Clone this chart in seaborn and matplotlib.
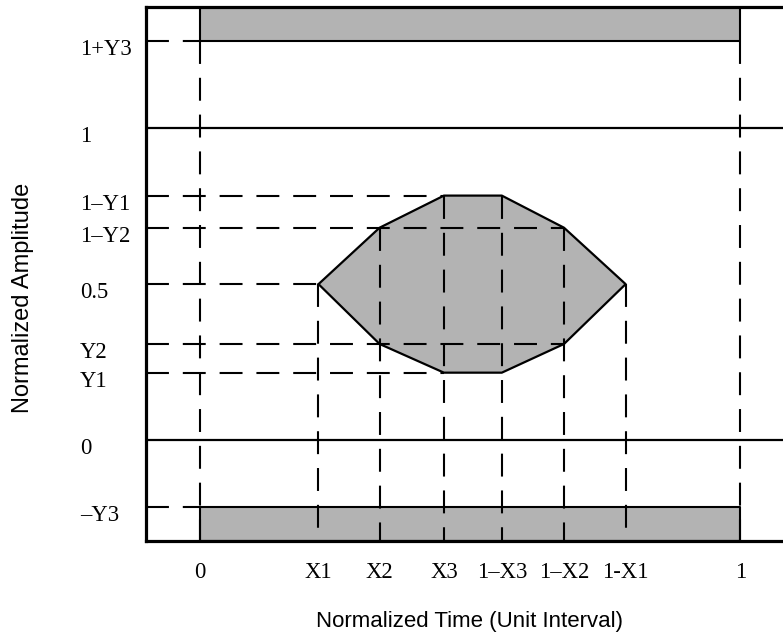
import numpy as np
import pandas as pd
import matplotlib
matplotlib.use("Agg")
import matplotlib.pyplot as plt
import seaborn as sns
from matplotlib.transforms import ScaledTranslation

# ---------------- data ----------------
x_tick_values = [0.0, 0.22, 0.333, 0.452, 0.559, 0.674, 0.788, 1.0]
x_tick_labels = ["0", "X1", "X2", "X3", "1\u2013X3", "1\u2013X2", "1-X1", "1"]
y_tick_values = [1.281, 1.0, 0.784, 0.681, 0.5, 0.308, 0.216, 0.0, -0.216]
y_tick_labels = ["1+Y3", "1", "1\u2013Y1", "1\u2013Y2", "0.5", "Y2", "Y1", "0", "\u2013Y3"]

# eye-mask polygon vertices
mask_x = [0.22, 0.333, 0.452, 0.559, 0.674, 0.788, 0.674, 0.559, 0.452, 0.333]
mask_y = [0.5, 0.681, 0.784, 0.784, 0.681, 0.5, 0.308, 0.216, 0.216, 0.308]

upper_mask = 1.281   # 1+Y3
lower_mask = -0.216  # -Y3
mask_x_start = 0.0
mask_x_end = 1.0
levels = [0.0, 1.0]

x_range = (-0.099, 1.079)
y_range = (-0.323, 1.388)

# horizontal guides: y level and x where they stop
h_guide_y = [1.281, 0.784, 0.681, 0.5, 0.308, 0.216, -0.216]
h_guide_xend = [0.0, 0.452, 0.674, 0.22, 0.674, 0.452, 0.0]
# vertical guides: x position and y where they start (down to the bottom)
v_guide_x = x_tick_values
v_guide_ytop = [1.281, 0.5, 0.681, 0.784, 0.784, 0.681, 0.5, 1.281]

# ---------------- style ----------------
sns.set_theme(style="white")
plt.rcParams["font.family"] = ["Liberation Sans", "DejaVu Sans"]
plt.rcParams["lines.scale_dashes"] = False

W, H, DPI = 783, 637, 100
fig = plt.figure(figsize=(W / DPI, H / DPI), dpi=DPI)
ax = fig.add_axes([146 / W, 1 - 540.7 / H, 1 - 146 / W, (540.7 - 7.3) / H])
ax.set_xlim(*x_range)
ax.set_ylim(*y_range)

grey = "#b3b3b3"

# mask bars (top and bottom)
ax.fill_between([mask_x_start, mask_x_end], upper_mask, y_range[1],
                facecolor=grey, edgecolor="black", linewidth=1.5, zorder=2)
ax.fill_between([mask_x_start, mask_x_end], y_range[0], lower_mask,
                facecolor=grey, edgecolor="black", linewidth=1.5, zorder=2)

# eye polygon
ax.fill(mask_x, mask_y, facecolor=grey, edgecolor="none", zorder=2)
poly_df = pd.DataFrame({"x": mask_x + mask_x[:1], "y": mask_y + mask_y[:1]})
sns.lineplot(data=poly_df, x="x", y="y", sort=False, estimator=None,
             color="black", linewidth=1.6, ax=ax, zorder=3, legend=False)

# solid level lines at 0 and 1
for lv in levels:
    ax.axhline(lv, color="black", linewidth=1.6, zorder=3)

# dashed guides
rows = []
seg = 0
for yv, xe in zip(h_guide_y, h_guide_xend):
    rows += [(seg, x_range[0], yv), (seg, xe, yv)]
    seg += 1
for xv, yt in zip(v_guide_x, v_guide_ytop):
    rows += [(seg, xv, yt), (seg, xv, y_range[0])]
    seg += 1
guides = pd.DataFrame(rows, columns=["seg", "x", "y"])
sns.lineplot(data=guides, x="x", y="y", units="seg", estimator=None, sort=False,
             color="black", linewidth=1.5, linestyle=(0, (16.5, 10)),
             ax=ax, zorder=4, legend=False)

# spines
for s in ["left", "top", "bottom"]:
    ax.spines[s].set_visible(True)
    ax.spines[s].set_color("black")
    ax.spines[s].set_linewidth(2.3)
    ax.spines[s].set_zorder(5)
ax.spines["right"].set_visible(False)

# ticks
ax.set_xticks(x_tick_values)
ax.set_xticklabels(x_tick_labels, fontfamily="Liberation Serif", fontsize=16.3)
ax.set_yticks(y_tick_values)
ax.set_yticklabels(y_tick_labels, fontfamily="Liberation Serif", fontsize=16.3)
ax.tick_params(axis="x", length=0, pad=15, colors="black")
ax.tick_params(axis="y", length=0, pad=47.5, colors="black")
off = ScaledTranslation(0, -0.06, fig.dpi_scale_trans)
for lab in ax.get_yticklabels():
    lab.set_horizontalalignment("left")
    lab.set_transform(lab.get_transform() + off)

ax.set_xlabel("Normalized Time (Unit Interval)", fontsize=16, color="black")
ax.set_ylabel("Normalized Amplitude", fontsize=17, color="black")
ax.xaxis.set_label_coords(0.5 + 5 / 637, (540.7 - 622) / 533.4)
ax.xaxis.label.set_va("center")
ax.yaxis.set_label_coords((23 - 146) / 637, (540.7 - 298) / 533.4)
ax.yaxis.label.set_va("center")
ax.grid(False)

fig.savefig("out.png", dpi=DPI)
